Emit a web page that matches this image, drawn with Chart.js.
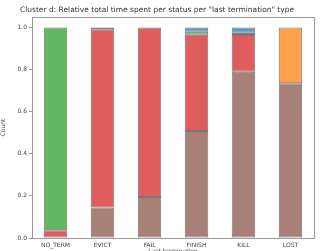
<!DOCTYPE html>
<html><head><meta charset="utf-8">
<script src="https://cdn.jsdelivr.net/npm/chart.js@4/dist/chart.umd.min.js"></script>
<style>html,body{margin:0;padding:0;background:#fff}#wrap{width:321px;height:251px}</style>
</head><body><div id="wrap"><canvas id="c" width="321" height="251"></canvas></div>
<script>
const categories = ['NO_TERM','EVICT','FAIL','FINISH','KILL','LOST'];
const brownSeries  = [0, 0.145, 0.195, 0.508, 0.79, 0.735];
const redSeries    = [0.037, 0.845, 0.805, 0.458, 0.175, 0];
const darkSeries   = [0, 0.01, 0, 0, 0.01, 0];
const greenSeries  = [0.963, 0, 0, 0.014, 0, 0];
const blueSeries   = [0, 0, 0, 0.02, 0.025, 0];
const orangeSeries = [0, 0, 0, 0, 0, 0.265];
const yTicks = [0, 0.2, 0.4, 0.6, 0.8, 1.0];

const edge = 'rgba(40,25,25,0.6)';
function ds(data, color){
  return {data: data.map(v => v === 0 ? null : v), backgroundColor: color, borderColor: edge, borderWidth: 1, borderSkipped: false,
          categoryPercentage: 1, barPercentage: 0.5};
}
const frame = {id:'frame', afterDraw(ch){const a=ch.chartArea,c=ch.ctx;c.save();c.strokeStyle='#999';c.lineWidth=1;
  c.strokeRect(Math.round(a.left)+0.5,Math.round(a.top)+0.5,Math.round(a.right-a.left),Math.round(a.bottom-a.top));c.restore();}};
new Chart(document.getElementById('c'), {
  type: 'bar',
  data: {labels: categories, datasets: [
    ds(brownSeries,'rgb(169,128,120)'),
    ds(redSeries,'rgb(224,93,94)'),
    ds(darkSeries,'rgb(60,45,45)'),
    ds(greenSeries,'rgb(97,184,97)'),
    ds(blueSeries,'rgb(87,153,199)'),
    ds(orangeSeries,'rgb(255,159,74)')
  ]},
  options: {
    responsive:false, animation:false,
    layout:{padding:{left:0,right:7,top:0,bottom:0}},
    plugins:{legend:{display:false}, tooltip:{enabled:false},
      title:{display:true, text:'Cluster d: Relative total time spent per status per "last termination" type',
        color:'#333', font:{family:'DejaVu Sans', size:7.5, weight:'normal'}, padding:{top:6,bottom:2}}},
    scales:{
      x:{stacked:true, offset:true,
        grid:{display:false, drawTicks:true, tickLength:3},
        border:{display:true,color:'#999'},
        ticks:{color:'#444', font:{family:'DejaVu Sans', size:6}, padding:1, maxRotation:0, autoSkip:false},
        title:{display:true, text:'Last termination', color:'#444', font:{family:'DejaVu Sans', size:6}, padding:{top:0,bottom:-4}},
        afterFit(s){s.height=13;}
      },
      y:{stacked:true, min:0, max:1.05,
        afterBuildTicks(s){s.ticks = yTicks.map(v=>({value:v}));},
        grid:{display:true, drawOnChartArea:false, drawTicks:true, tickLength:3, color:'#999'},
        border:{display:true,color:'#999'},
        ticks:{color:'#444', font:{family:'DejaVu Sans', size:6}, padding:2, callback:v=>v.toFixed(1)},
        title:{display:true, text:'Count', color:'#444', font:{family:'DejaVu Sans', size:6}, padding:{top:0,bottom:4}},
        afterFit(s){s.width=32;}
      }
    }
  },
  plugins:[frame]
});
</script></body></html>
